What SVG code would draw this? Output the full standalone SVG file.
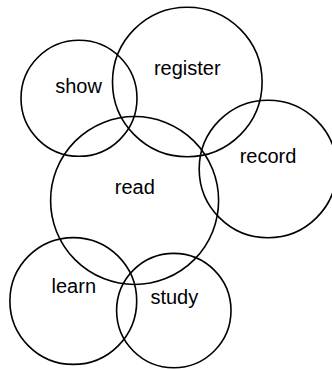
<svg xmlns="http://www.w3.org/2000/svg" width="332" height="369" viewBox="0 0 332 369">
<style>
.c{fill:none;stroke:#000;stroke-width:1.6}
.t{font-family:"Liberation Sans",Arial,sans-serif;font-size:20px;fill:#000;text-anchor:middle}
</style>
<rect width="332" height="369" fill="#fff"/>
<g id="connectors"></g>
<g id="show"><circle class="c" cx="79" cy="98.3" r="58"/><text class="t" x="78.5" y="92.5">show</text></g>
<g id="register"><circle class="c" cx="187.3" cy="82" r="74.8"/><text class="t" x="187.3" y="74.5">register</text></g>
<g id="record"><circle class="c" cx="268" cy="169" r="68.8"/><text class="t" x="268" y="163">record</text></g>
<g id="read"><circle class="c" cx="134.6" cy="200.5" r="84"/><text class="t" x="134.8" y="194">read</text></g>
<g id="learn"><circle class="c" cx="73.3" cy="301" r="63.4"/><text class="t" x="73.8" y="293">learn</text></g>
<g id="study"><circle class="c" cx="173.8" cy="310.6" r="57.2"/><text class="t" x="174.3" y="303.5">study</text></g>
</svg>
